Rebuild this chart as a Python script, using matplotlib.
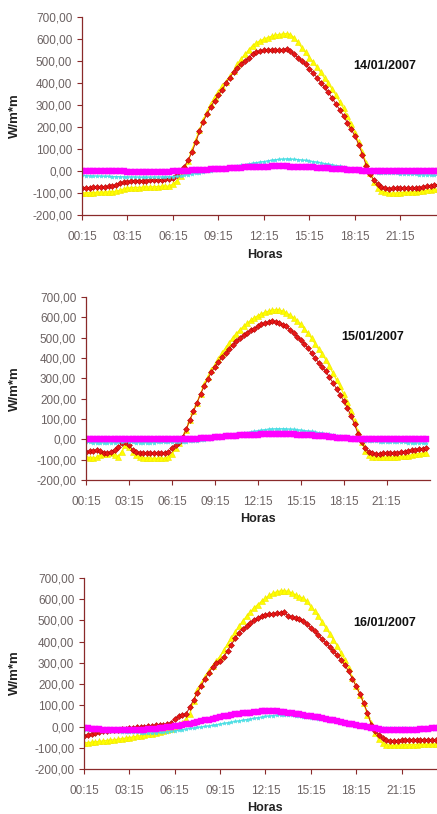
"""Tres días de radiación (W/m*m) cada 15 minutos, un panel por día."""
import matplotlib
matplotlib.use("Agg")
import matplotlib.pyplot as plt
import numpy as np

plt.rcParams["font.family"] = ["Liberation Sans", "DejaVu Sans"]

# --- datos (96 valores cada 15 min desde 00:15) ---
dates = ["14/01/2007", "15/01/2007", "16/01/2007"]
tick_labels = ["00:15", "03:15", "06:15", "09:15", "12:15", "15:15", "18:15", "21:15"]
y_ticks = [700, 600, 500, 400, 300, 200, 100, 0, -100, -200]

yellow_14 = [-100, -99, -98, -98, -97, -96, -96, -95, -94, -92, -88, -82,
             -78, -76, -75, -75, -74, -73, -72, -72, -71, -70, -70, -68,
             -60, -45, -22, 0, 45, 95, 140, 185, 230, 270, 305, 335,
             360, 385, 405, 430, 455, 485, 510, 530, 550, 570, 582, 592,
             600, 606, 612, 617, 620, 623, 624, 620, 605, 585, 560, 540,
             515, 495, 472, 448, 422, 398, 372, 345, 315, 285, 250, 215,
             175, 130, 85, 35, -10, -48, -75, -90, -97, -100, -101, -100,
             -98, -97, -96, -95, -94, -92, -90, -88, -85, -83, -82, -80]
red_14 = [-75, -75, -75, -74, -74, -73, -72, -70, -68, -62, -56, -52,
          -48, -46, -45, -45, -44, -44, -43, -42, -42, -40, -38, -36,
          -30, -20, 0, 20, 50, 85, 130, 180, 225, 260, 292, 320,
          345, 370, 400, 425, 448, 470, 486, 500, 515, 530, 540, 545,
          548, 550, 551, 549, 548, 550, 556, 545, 530, 515, 500, 485,
          465, 445, 425, 402, 380, 357, 332, 305, 278, 250, 220, 190,
          160, 120, 75, 25, -15, -40, -60, -72, -78, -80, -79, -78,
          -78, -77, -78, -78, -77, -75, -73, -70, -67, -64, -62, -60]
cyan_14 = [-20, -21, -22, -22, -23, -23, -24, -24, -25, -25, -26, -26,
           -27, -27, -27, -28, -28, -28, -28, -27, -27, -27, -26, -26,
           -25, -24, -22, -20, -17, -14, -11, -8, -5, -2, 1, 4,
           8, 11, 14, 17, 20, 23, 26, 29, 32, 35, 38, 41,
           43, 46, 49, 51, 53, 54, 55, 54, 53, 52, 50, 48,
           46, 43, 40, 37, 34, 31, 28, 25, 22, 18, 14, 10,
           7, 4, 1, -2, -4, -6, -7, -8, -9, -10, -10, -11,
           -12, -12, -13, -14, -15, -16, -17, -18, -18, -19, -20, -20]
magenta_14 = [2, 2, 2, 1, 1, 1, 0, 0, 0, -1, -2, -2,
              -3, -4, -5, -5, -5, -6, -6, -5, -5, -5, -4, -3,
              -2, -1, 0, 1, 2, 3, 4, 5, 5, 6, 7, 8,
              9, 10, 11, 12, 13, 14, 15, 16, 17, 18, 18, 19,
              20, 20, 21, 21, 21, 21, 21, 20, 20, 19, 19, 18,
              17, 16, 15, 14, 13, 12, 10, 9, 8, 7, 6, 5,
              4, 3, 2, 2, 1, 1, 1, 0, 0, 0, 0, 0,
              0, 0, 0, 0, 0, 0, 0, 0, 0, 0, 0, 0]

yellow_15 = [-85, -90, -93, -88, -77, -72, -70, -68, -75, -85, -60, -30,
             -36, -60, -77, -85, -90, -93, -93, -94, -94, -93, -93, -88,
             -70, -45, -19, 5, 45, 95, 137, 180, 225, 270, 305, 340,
             365, 395, 425, 449, 475, 500, 520, 539, 555, 570, 585, 598,
             608, 617, 625, 630, 635, 638, 637, 630, 621, 610, 598, 580,
             565, 545, 522, 498, 470, 443, 418, 391, 360, 325, 292, 260,
             222, 185, 140, 90, 35, -15, -55, -75, -85, -88, -88, -87,
             -87, -86, -86, -85, -84, -82, -80, -76, -72, -70, -68, -68]
red_15 = [-60, -58, -55, -52, -58, -65, -68, -60, -50, -40, -20, -15,
          -27, -52, -60, -65, -68, -68, -69, -69, -68, -68, -68, -62,
          -45, -30, -15, 10, 50, 95, 137, 180, 222, 262, 295, 330,
          355, 380, 405, 424, 445, 465, 482, 498, 512, 525, 537, 545,
          555, 565, 572, 576, 580, 578, 570, 562, 555, 540, 525, 505,
          490, 470, 448, 424, 400, 377, 355, 334, 305, 278, 248, 219,
          188, 155, 115, 75, 25, -15, -44, -60, -68, -70, -70, -69,
          -68, -67, -66, -65, -63, -60, -57, -54, -50, -48, -46, -45]
cyan_15 = [-15, -15, -16, -16, -16, -17, -17, -17, -16, -15, -12, -10,
           -12, -15, -16, -16, -16, -16, -16, -16, -15, -15, -15, -14,
           -14, -13, -13, -12, -11, -10, -8, -6, -4, -2, 0, 3,
           6, 9, 12, 15, 18, 21, 24, 27, 30, 33, 36, 39,
           42, 45, 48, 50, 51, 52, 52, 52, 51, 50, 49, 47,
           45, 43, 41, 39, 36, 33, 30, 27, 24, 21, 18, 14,
           10, 6, 3, 0, -2, -4, -6, -8, -9, -10, -11, -11,
           -12, -12, -13, -13, -14, -15, -16, -17, -17, -18, -19, -19]
magenta_15 = [0, 0, 0, 1, 1, 0, 0, 0, 0, 1, 3, 3,
              2, 1, 0, 0, 0, 0, 0, 0, 0, 0, 0, 0,
              0, 0, 0, 1, 1, 2, 3, 4, 5, 7, 8, 9,
              10, 12, 13, 14, 15, 17, 18, 19, 20, 21, 22, 23,
              23, 24, 24, 25, 25, 25, 25, 25, 25, 24, 24, 23,
              22, 21, 20, 19, 18, 17, 16, 14, 13, 11, 9, 8,
              6, 5, 4, 3, 2, 1, 1, 1, 0, 0, 0, 0,
              0, 0, 0, 0, 0, 0, 0, 0, 0, 0, 0, 0]

yellow_16 = [-77, -76, -74, -72, -70, -68, -66, -64, -62, -60, -57, -55,
             -52, -49, -46, -43, -40, -37, -34, -31, -28, -23, -18, -10,
             -2, 10, 17, 35, 60, 120, 170, 200, 235, 262, 285, 310,
             330, 360, 390, 415, 445, 472, 497, 519, 540, 560, 575, 590,
             605, 618, 628, 635, 639, 640, 637, 630, 620, 612, 605, 590,
             565, 545, 520, 492, 465, 438, 410, 380, 348, 315, 275, 230,
             190, 150, 110, 55, 15, -30, -60, -78, -85, -88, -88, -87,
             -86, -86, -85, -85, -85, -84, -84, -83, -83, -82, -82, -82]
red_16 = [-43, -40, -35, -30, -25, -22, -20, -18, -15, -14, -12, -10,
          -8, -6, -4, -2, 0, 2, 3, 5, 7, 9, 12, 17,
          35, 49, 55, 61, 90, 127, 160, 190, 225, 253, 280, 298,
          308, 330, 358, 386, 415, 443, 460, 472, 487, 500, 512, 520,
          526, 530, 532, 534, 536, 540, 520, 515, 510, 505, 496, 485,
          465, 448, 430, 412, 394, 375, 355, 335, 315, 290, 260, 225,
          190, 155, 110, 65, 9, -20, -38, -55, -65, -69, -68, -66,
          -64, -62, -61, -61, -61, -61, -61, -61, -61, -61, -61, -62]
cyan_16 = [-14, -15, -16, -17, -18, -19, -20, -21, -22, -23, -24, -25,
           -26, -27, -28, -29, -30, -30, -30, -29, -28, -27, -25, -23,
           -20, -17, -14, -12, -9, -7, -4, -2, 1, 3, 6, 9,
           12, 15, 18, 21, 24, 27, 30, 33, 36, 39, 42, 45,
           48, 50, 52, 54, 55, 56, 55, 53, 51, 49, 47, 44,
           41, 39, 37, 34, 31, 28, 25, 22, 18, 14, 10, 6,
           3, 1, -1, -3, -5, -6, -6, -6, -6, -6, -7, -7,
           -7, -8, -8, -8, -9, -9, -9, -10, -10, -10, -10, -10]
magenta_16 = [-6, -8, -10, -12, -13, -14, -15, -16, -17, -17, -17, -16,
              -16, -15, -15, -14, -14, -13, -12, -10, -8, -6, -4, -2,
              1, 4, 7, 10, 13, 17, 21, 25, 29, 33, 37, 41,
              45, 49, 52, 55, 58, 60, 62, 64, 66, 68, 70, 71,
              72, 72, 72, 71, 70, 68, 66, 64, 61, 58, 55, 52,
              49, 46, 43, 40, 36, 33, 30, 26, 22, 18, 14, 10,
              7, 4, 1, -3, -6, -9, -12, -14, -15, -16, -17, -17,
              -17, -17, -16, -15, -14, -12, -11, -10, -9, -8, -7, -6]

panels = [
    (yellow_14, red_14, cyan_14, magenta_14),
    (yellow_15, red_15, cyan_15, magenta_15),
    (yellow_16, red_16, cyan_16, magenta_16),
]

# posiciones en píxeles: izquierda, arriba, abajo del eje, px por intervalo, y textos
W, H = 437, 814
layout = [
    dict(left=82, top=17, bottom=215, step=3.79, horas=(265, 255), date=(385, 66), ylab=(15, 116)),
    dict(left=86, top=297, bottom=480, step=3.58, horas=(258, 519), date=(373, 337), ylab=(15, 389)),
    dict(left=84, top=578, bottom=769, step=3.78, horas=(265, 808), date=(385, 623), ylab=(15, 673)),
]

SPINE = "#8a2a2a"
TICKC = "#6b6262"

fig = plt.figure(figsize=(W / 100, H / 100), dpi=100)

for (yel, red, cya, mag), lay, date in zip(panels, layout, dates):
    width = 96 * lay["step"]
    ax = fig.add_axes([lay["left"] / W, 1 - lay["bottom"] / H,
                       width / W, (lay["bottom"] - lay["top"]) / H])
    x = np.arange(len(yel))
    ax.plot(x, yel, color="#ffff00", lw=1, marker="^", ms=4, mec="#f0e400", mew=0.4)
    ax.plot(x, red, color="#c81414", lw=0.7, marker="D", ms=3.0, mfc="#e81818", mec="#b00000", mew=0.4)
    ax.plot(x, cya, color="#50e4e8", lw=0.8, marker="*", ms=3.0, mec="#40d8e0", mew=0.3)
    ax.plot(x, mag, color="#ff00ff", lw=1.5, marker="s", ms=3.8, mec="#ff00ff", mew=0.3)

    ax.set_xlim(0, 96)
    ax.set_ylim(-200, 700)
    ax.set_yticks(y_ticks)
    ax.set_yticklabels([f"{v},00" for v in y_ticks])
    ax.set_xticks(range(0, 96, 12))
    ax.set_xticklabels(tick_labels)
    for side in ("top", "right"):
        ax.spines[side].set_visible(False)
    for side in ("left", "bottom"):
        ax.spines[side].set_color(SPINE)
        ax.spines[side].set_linewidth(0.9)
    ax.tick_params(axis="both", colors=SPINE, labelcolor=TICKC, labelsize=8.5,
                   length=3.5, width=0.8, direction="out")
    ax.tick_params(axis="x", pad=8)
    ax.set_facecolor("none")

    fig.text(lay["horas"][0] / W, 1 - lay["horas"][1] / H, "Horas",
             ha="center", va="center", fontsize=9, fontweight="bold", color="#222222")
    fig.text(lay["ylab"][0] / W, 1 - lay["ylab"][1] / H, "W/m*m", rotation=90,
             ha="center", va="center", fontsize=9.5, fontweight="bold", color="#222222")
    fig.text(lay["date"][0] / W, 1 - lay["date"][1] / H, date,
             ha="center", va="center", fontsize=9, fontweight="bold", color="#111111")

fig.savefig("out.png", dpi=100)
